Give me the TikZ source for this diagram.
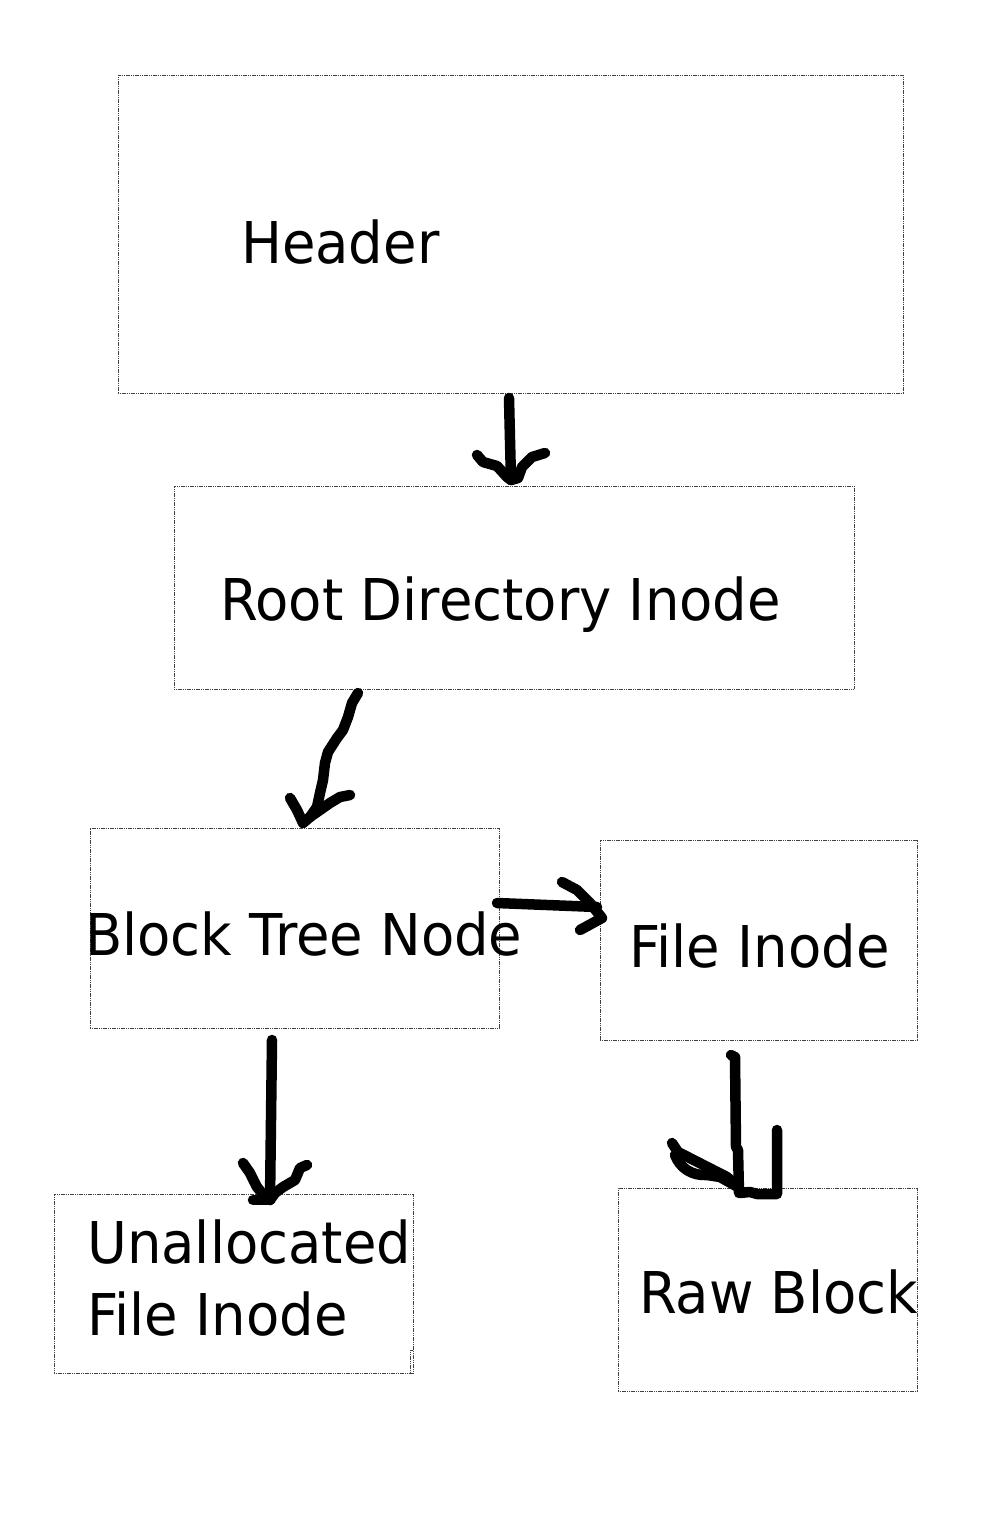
\documentclass[tikz,border=0pt]{standalone}
\usepackage{fontspec}
\setmainfont[FakeStretch=0.945]{DejaVu Sans}
\begin{document}
\begin{tikzpicture}[x=1pt,y=-1pt,
  box/.style={draw=black!75, line width=1pt, dash pattern=on 1.2pt off 0.6pt, inner sep=0pt, outer sep=0pt},
  lbl/.style={anchor=base west, inner sep=0pt, font=\fontsize{57.6}{70}\selectfont},
  pen/.style={line width=10.5pt, line cap=round, line join=round}]
\useasboundingbox (0,0) rectangle (1000,1513);
% boxes
\node[box, minimum width=785pt, minimum height=318pt] (hdr) at (510.5,234) {};
\node[box, minimum width=680pt, minimum height=203pt] (root) at (514,587.5) {};
\node[box, minimum width=409pt, minimum height=200pt] (btn) at (294.5,928) {};
\node[box, minimum width=317pt, minimum height=200pt] (fin) at (758.5,940) {};
\node[box, minimum width=359pt, minimum height=179pt] (una) at (233.5,1283.5) {};
\node[box, minimum width=299pt, minimum height=203pt] (raw) at (767.5,1289.5) {};
\draw[box] (410,1373) -- (410,1350) -- (una.east |- 0,1350);
% labels
\node[lbl] (thdr) at (241,263) {Header};
\node[lbl] (troot) at (220,620) {Root Directory Inode};
\node[lbl] (tbtn) at (85,955) {Block Tree Node};
\node[lbl] (tfin) at (629,967) {File Inode};
\node[lbl] (tuna) at (87,1263) {Unallocated};
\node[lbl] (tuna2) at (87,1335) {File Inode};
\node[lbl] (traw) at (639,1313) {Raw Block};
% connector end points
\coordinate (a1s) at (hdr.south -| 509,0);
\coordinate (a1e) at (root.north -| 511,0);
\coordinate (a2s) at (root.south -| 358,0);
\coordinate (a2e) at (btn.north -| 303,0);
\coordinate (a3s) at (btn.east |- 0,903);
\coordinate (a3e) at (fin.west |- 0,907);
\coordinate (a4s) at (btn.south -| 272,0);
\coordinate (a4e) at (una.north -| 270,0);
\coordinate (a5s) at (fin.south -| 731,0);
\coordinate (a5e) at (raw.north -| 739,0);
% arrow 1
\draw[pen] ([yshift=-5pt]a1s) -- (510,440) -- ([yshift=6pt]a1e);
\draw[pen] (477,455) -- (483,462) -- (497,466) -- (507,477) -- ([yshift=6pt]a1e);
\draw[pen] (545,453) -- (532,457) -- (522,467) -- (518,478) -- ([yshift=6pt]a1e);
% arrow 2
\draw[pen] ([yshift=-4pt]a2s) -- (352,703) -- (348,717) -- (343,730) -- (337,738) -- (328,752) -- (325,763) -- (323,780) -- (320,793) -- (317,807) -- (310,817) -- ([yshift=5pt]a2e);
\draw[pen] (290,798) -- (297,810) -- ([yshift=5pt]a2e);
\draw[pen] (350,795) -- (340,797) -- (330,803) -- (320,810) -- (310,817);
% arrow 3
\draw[pen] ([xshift=-2pt]a3s) -- ([xshift=-3pt]a3e);
\draw[pen] (562,882) -- (577,890) -- (590,903) -- (602,918) -- (580,930);
% arrow 4
\draw[pen] ([yshift=-12pt]a4s) -- ([yshift=-6pt]a4e);
\draw[pen] (243,1163) -- (250,1173) -- (257,1187) -- (265,1197) -- ([yshift=-6pt]a4e);
\draw[pen] (253,1200) -- (270,1200);
\draw[pen] (307,1165) -- (300,1168) -- (295,1180) -- (283,1187) -- (275,1193) -- ([yshift=-6pt]a4e);
% arrow 5
\draw[pen] ([yshift=-15pt]a5s) -- (735,1057) -- (736,1147) -- (738,1150) -- ([yshift=-5pt]a5e) -- (750,1192) -- (757,1194) -- (777,1194) -- (777,1130);
\draw[pen] (672,1143) -- (678,1152) -- (727,1177) -- (738,1187);
\draw[pen] (675,1155) .. controls (680,1168) and (692,1176) .. (707,1175) -- (720,1177) -- (738,1187);
\end{tikzpicture}
\end{document}
